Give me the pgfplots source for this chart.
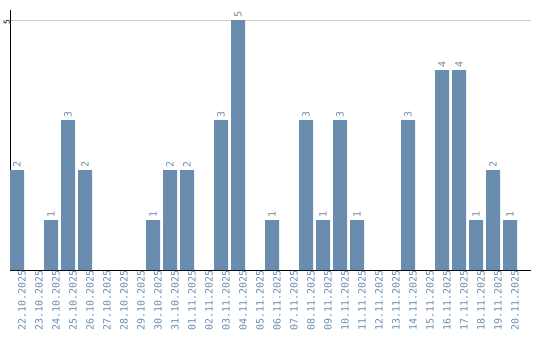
\documentclass[border=0pt]{standalone}
\usepackage{pgfplots}
\pgfplotsset{compat=1.18}
\usepackage{fontspec}
\setmainfont{DejaVu Sans Mono}
\definecolor{barc}{RGB}{106,140,174}
\definecolor{gridc}{RGB}{204,204,204}
\begin{document}
\begin{tikzpicture}
\useasboundingbox (-10bp,-70bp) rectangle (530bp,270bp);
\begin{axis}[
  at={(0,0)}, anchor=south west,
  scale only axis, width=521bp, height=260bp,
  xmin=-0.4118, xmax=30.235, ymin=0, ymax=5.2,
  axis x line=bottom, axis y line=left,
  axis line style={-, black, line width=1bp},
  ytick={5}, ymajorgrids, grid style={gridc, line width=1bp},
  major tick length=0pt,
  xtick={0,...,29},
  xticklabels={22.10.2025,23.10.2025,24.10.2025,25.10.2025,26.10.2025,27.10.2025,28.10.2025,29.10.2025,30.10.2025,31.10.2025,01.11.2025,02.11.2025,03.11.2025,04.11.2025,05.11.2025,06.11.2025,07.11.2025,08.11.2025,09.11.2025,10.11.2025,11.11.2025,12.11.2025,13.11.2025,14.11.2025,15.11.2025,16.11.2025,17.11.2025,18.11.2025,19.11.2025,20.11.2025},
  xticklabel style={rotate=90, anchor=east, font=\fontsize{10}{10}\selectfont, text=barc, inner sep=0pt, xshift=0bp, yshift=-5bp},
  yticklabel style={rotate=90, anchor=south, font=\fontsize{8}{8}\selectfont, text=black, inner sep=0pt, xshift=-2bp},
  /pgf/number format/assume math mode=true,
  nodes near coords,
  every node near coord/.append style={rotate=90, anchor=west, font=\fontsize{10}{10}\selectfont, text=barc, inner sep=0pt, xshift=2bp},
]
\addplot[ybar, bar width=14bp, fill=barc, draw=none] coordinates {
(0,2) (2,1) (3,3) (4,2) (8,1) (9,2) (10,2) (12,3) (13,5) (15,1) (17,3) (18,1) (19,3) (20,1) (23,3) (25,4) (26,4) (27,1) (28,2) (29,1)
};
\end{axis}
\end{tikzpicture}
\end{document}
